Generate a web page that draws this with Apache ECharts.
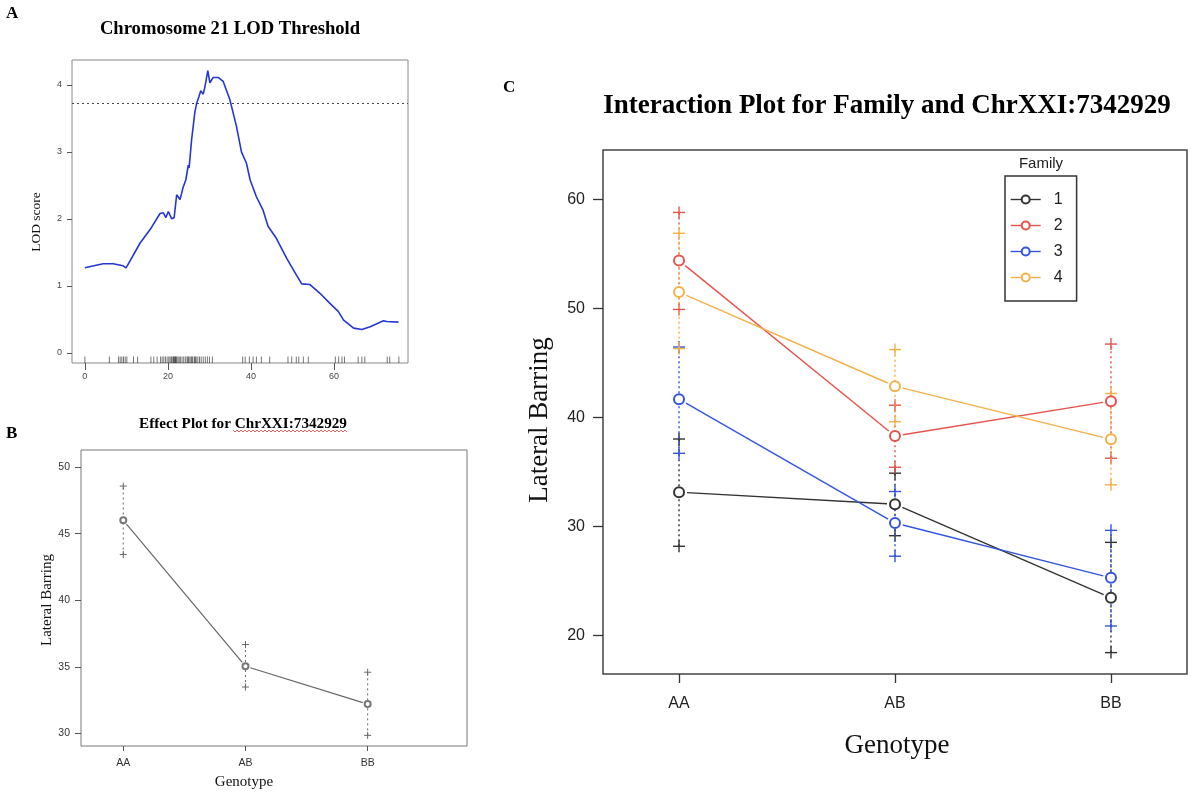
<!DOCTYPE html>
<html><head><meta charset="utf-8">
<script src="https://cdn.jsdelivr.net/npm/echarts@6/dist/echarts.min.js"></script>
<style>html,body{margin:0;padding:0;background:#fff}#c{width:1191px;height:803px}</style>
</head><body><div id="c"></div><script>
// ---------- Panel A data ----------
const lodPos = [0, 4.4, 6.8, 9.2, 9.9, 10.3, 13.3, 15.7, 18.1, 18.9, 19.5, 20.1, 20.9, 21.5, 22.1, 22.9, 23.3, 23.6, 24.3, 24.9, 25.1, 25.7, 26.1, 26.5, 26.9, 27.5, 27.9, 28.5, 28.9, 29.6, 30.1, 30.9, 32.1, 33.3, 34.9, 36.5, 37.7, 38.9, 39.8, 41.3, 42.9, 44.1, 46.1, 48.6, 50.2, 52.2, 54.2, 56.6, 59.0, 61.0, 62.3, 64.7, 66.7, 68.7, 71.9, 72.7, 75.5];
const lodScore = [1.27, 1.33, 1.33, 1.30, 1.27, 1.31, 1.64, 1.84, 2.08, 2.09, 2.02, 2.11, 2.00, 2.02, 2.36, 2.29, 2.38, 2.46, 2.58, 2.80, 2.76, 3.18, 3.39, 3.60, 3.72, 3.83, 3.91, 3.86, 3.97, 4.21, 4.03, 4.11, 4.11, 4.05, 3.78, 3.38, 3.00, 2.83, 2.58, 2.33, 2.13, 1.89, 1.71, 1.41, 1.24, 1.03, 1.02, 0.89, 0.74, 0.62, 0.49, 0.37, 0.35, 0.39, 0.48, 0.47, 0.46];
const markerPos = [0, 5.9, 8.1, 8.5, 8.9, 9.3, 9.7, 10.1, 11.7, 12.7, 15.9, 16.6, 17.4, 18.2, 18.6, 19.0, 19.4, 19.8, 20.2, 20.5, 20.8, 21.0, 21.3, 21.4, 21.6, 21.8, 21.9, 22.1, 22.4, 22.7, 23.0, 23.4, 23.8, 24.2, 24.6, 24.8, 25.0, 25.3, 25.6, 25.8, 26.0, 26.4, 26.6, 26.8, 27.2, 27.6, 28.0, 28.5, 29.0, 29.5, 30.0, 30.7, 38.0, 38.6, 39.6, 40.5, 41.3, 42.5, 44.5, 48.9, 49.8, 50.9, 51.5, 52.6, 53.8, 60.3, 61.1, 61.9, 62.5, 65.8, 66.7, 67.4, 72.8, 73.4, 75.6];
const lodThreshold = 3.72;
const lodTicks = [0, 1, 2, 3, 4];
const posTicks = [0, 20, 40, 60];

// ---------- Panel B data ----------
const genotypes = ['AA', 'AB', 'BB'];
const genoPos = [1, 2, 3];
const effMean = [46.0, 35.04, 32.2];
const effLower = [43.43, 33.48, 29.85];
const effUpper = [48.57, 36.67, 34.59];
const effTicks = [30, 35, 40, 45, 50];

// ---------- Panel C data ----------
const families = ['1', '2', '3', '4'];
const famColors = ['#333333', '#E5534B', '#3355DD', '#F5B048'];
const fam1Mean = [33.15, 32.05, 23.47];
const fam1Lower = [28.19, 29.16, 18.45];
const fam1Upper = [38.02, 34.89, 28.55];
const fam2Mean = [54.37, 38.29, 41.49];
const fam2Lower = [49.89, 35.43, 36.26];
const fam2Upper = [58.78, 41.12, 46.72];
const fam3Mean = [41.67, 30.32, 25.30];
const fam3Lower = [36.71, 27.28, 20.89];
const fam3Upper = [46.45, 33.21, 29.65];
const fam4Mean = [51.48, 42.86, 37.99];
const fam4Lower = [46.30, 39.60, 33.82];
const fam4Upper = [56.87, 46.21, 42.19];
const intTicks = [20, 30, 40, 50, 60];

const famMeans = [fam1Mean, fam2Mean, fam3Mean, fam4Mean];
const famLowers = [fam1Lower, fam2Lower, fam3Lower, fam4Lower];
const famUppers = [fam1Upper, fam2Upper, fam3Upper, fam4Upper];

const serif = "'Liberation Serif', 'Times New Roman', serif";
const sans = "'Liberation Sans', Arial, sans-serif";

function errRender(cross, color, lw) {
  return function (params, api) {
    const x = api.value(0), lo = api.value(1), hi = api.value(2);
    const pl = api.coord([x, lo]), ph = api.coord([x, hi]);
    const s = cross / 2;
    const st = { stroke: color, lineWidth: lw };
    return { type: 'group', children: [
      { type: 'line', shape: { x1: pl[0], y1: pl[1], x2: ph[0], y2: ph[1] }, style: { stroke: color, lineWidth: lw, lineDash: [2, 3] } },
      { type: 'line', shape: { x1: pl[0] - s, y1: pl[1], x2: pl[0] + s, y2: pl[1] }, style: st },
      { type: 'line', shape: { x1: pl[0], y1: pl[1] - s, x2: pl[0], y2: pl[1] + s }, style: st },
      { type: 'line', shape: { x1: ph[0] - s, y1: ph[1], x2: ph[0] + s, y2: ph[1] }, style: st },
      { type: 'line', shape: { x1: ph[0], y1: ph[1] - s, x2: ph[0], y2: ph[1] + s }, style: st }
    ]};
  };
}

// connecting segments with a gap at each point (R type = "b")
function segRender(gap, color, lw) {
  return function (params, api) {
    const p1 = api.coord([api.value(0), api.value(1)]);
    const p2 = api.coord([api.value(2), api.value(3)]);
    const dx = p2[0] - p1[0], dy = p2[1] - p1[1];
    const len = Math.sqrt(dx * dx + dy * dy) || 1;
    const ux = dx / len, uy = dy / len;
    return { type: 'line', shape: { x1: p1[0] + ux * gap, y1: p1[1] + uy * gap, x2: p2[0] - ux * gap, y2: p2[1] - uy * gap },
      style: { stroke: color, lineWidth: lw } };
  };
}
function segData(means) {
  const out = [];
  for (let i = 0; i < genoPos.length - 1; i++) out.push([genoPos[i], means[i], genoPos[i + 1], means[i + 1]]);
  return out;
}

function mkAxis(gi, min, max, ticks, o) {
  return {
    gridIndex: gi, type: 'value', min: min, max: max,
    axisLine: { show: false, onZero: false }, splitLine: { show: false },
    axisTick: { show: true, inside: false, length: o.tickLen, customValues: ticks, lineStyle: { color: o.tickColor, width: o.tickWidth || 1 } },
    axisLabel: { customValues: ticks, fontSize: o.fontSize, color: o.labelColor, margin: o.margin, fontFamily: sans,
      formatter: o.formatter || (v => String(v)) }
  };
}

const genoFmt = v => genotypes[genoPos.indexOf(Math.round(v))] || '';

const series = [];
// A: LOD curve
series.push({
  type: 'line', xAxisIndex: 0, yAxisIndex: 0, name: 'lod',
  data: lodPos.map((p, i) => [p, lodScore[i]]),
  showSymbol: false, symbol: 'none', lineStyle: { color: '#2536D6', width: 1.6 }, z: 3,
  markLine: { silent: true, symbol: 'none', label: { show: false },
    lineStyle: { color: '#444', type: [2, 3], width: 1.2 }, data: [{ yAxis: lodThreshold }] }
});
// A: marker rug
series.push({
  type: 'custom', xAxisIndex: 0, yAxisIndex: 0, name: 'rug',
  data: markerPos.map(p => [p, 0]),
  renderItem: function (params, api) {
    const p = api.coord([api.value(0), 0]);
    const cs = params.coordSys; const yb = cs.y + cs.height;
    return { type: 'line', shape: { x1: p[0], y1: yb, x2: p[0], y2: yb - 6.5 }, style: { stroke: '#000', lineWidth: 0.9, opacity: 0.6 } };
  }, z: 2
});
// B: effect errors, segments, points
series.push({
  type: 'custom', xAxisIndex: 1, yAxisIndex: 1, name: 'effErr',
  data: genoPos.map((g, i) => [g, effLower[i], effUpper[i]]),
  renderItem: errRender(7, '#666', 1), z: 2
});
series.push({
  type: 'custom', xAxisIndex: 1, yAxisIndex: 1, name: 'effSeg',
  data: segData(effMean), renderItem: segRender(5, '#666', 1.2), z: 3
});
series.push({
  type: 'line', xAxisIndex: 1, yAxisIndex: 1, name: 'eff',
  data: genoPos.map((g, i) => [g, effMean[i]]),
  symbol: 'emptyCircle', symbolSize: 6, lineStyle: { opacity: 0 },
  itemStyle: { color: '#777', borderWidth: 1 }, z: 3
});
// C: families
families.forEach((f, k) => {
  series.push({
    type: 'custom', xAxisIndex: 2, yAxisIndex: 2, name: 'err' + f,
    data: genoPos.map((g, i) => [g, famLowers[k][i], famUppers[k][i]]),
    renderItem: errRender(12, famColors[k], 1.4), z: 2
  });
});
families.forEach((f, k) => {
  series.push({
    type: 'custom', xAxisIndex: 2, yAxisIndex: 2, name: 'seg' + f,
    data: segData(famMeans[k]), renderItem: segRender(8, famColors[k], 1.4), z: 4
  });
  series.push({
    type: 'line', xAxisIndex: 2, yAxisIndex: 2, name: f,
    data: genoPos.map((g, i) => [g, famMeans[k][i]]),
    symbol: 'emptyCircle', symbolSize: 10,
    lineStyle: { color: famColors[k], width: 1.4, opacity: 0 },
    itemStyle: { color: famColors[k], borderWidth: 1.4 }, z: 4
  });
});

// decorative red squiggle (spell-check underline) under B title
const sq = [];
for (let i = 0; i <= 57; i++) sq.push([233 + i * 2, 431 + (i % 2 ? 1 : -1)]);

const option = {
  animation: false,
  backgroundColor: '#fff',
  textStyle: { fontFamily: sans },
  grid: [
    { left: 72, top: 60, width: 336, height: 303, show: true, borderColor: '#888', borderWidth: 1, backgroundColor: 'transparent' },
    { left: 81, top: 450, width: 386, height: 296, show: true, borderColor: '#777', borderWidth: 1, backgroundColor: 'transparent' },
    { left: 603, top: 150, width: 584, height: 524, show: true, borderColor: '#444', borderWidth: 1.5, backgroundColor: 'transparent' }
  ],
  xAxis: [
    mkAxis(0, -3.1, 77.8, posTicks, { tickLen: 7, tickColor: '#555', fontSize: 9, labelColor: '#444', margin: 9 }),
    mkAxis(1, 0.654, 3.813, genoPos, { tickLen: 5, tickColor: '#555', fontSize: 10.5, labelColor: '#333', margin: 12, formatter: genoFmt }),
    mkAxis(2, 0.648, 3.352, genoPos, { tickLen: 9, tickColor: '#333', tickWidth: 1.3, fontSize: 16, labelColor: '#222', margin: 22, formatter: genoFmt })
  ],
  yAxis: [
    mkAxis(0, -0.15, 4.37, lodTicks, { tickLen: 5, tickColor: '#555', fontSize: 9, labelColor: '#444', margin: 10 }),
    mkAxis(1, 29.05, 51.28, effTicks, { tickLen: 6, tickColor: '#555', fontSize: 10.5, labelColor: '#333', margin: 11 }),
    mkAxis(2, 16.49, 64.5, intTicks, { tickLen: 10, tickColor: '#333', tickWidth: 1.3, fontSize: 16, labelColor: '#222', margin: 18 })
  ],
  legend: {
    data: families.map((f, k) => ({ name: f, lineStyle: { color: famColors[k], width: 1.4, opacity: 1 } })),
    orient: 'vertical', left: 1005, top: 176,
    padding: [15.5, 14, 15.5, 5], itemWidth: 30, itemHeight: 10, itemGap: 10,
    borderColor: '#333', borderWidth: 1.5, selectedMode: false,
    textStyle: { fontSize: 16, fontFamily: sans, color: '#222', lineHeight: 10, padding: [0, 0, 0, 8] }
  },
  graphic: [
    { type: 'text', left: 6, top: 5, style: { text: 'A', font: 'bold 17px ' + serif, fill: '#000' } },
    { type: 'text', x: 230, y: 29, style: { text: 'Chromosome 21 LOD Threshold', font: 'bold 18.6px ' + serif, fill: '#000', textAlign: 'center', textVerticalAlign: 'middle' } },
    { type: 'text', x: 36, y: 222, rotation: Math.PI / 2, style: { text: 'LOD score', font: '13.5px ' + serif, fill: '#111', textAlign: 'center', textVerticalAlign: 'middle' } },
    { type: 'text', left: 6, top: 425, style: { text: 'B', font: 'bold 17px ' + serif, fill: '#000' } },
    { type: 'text', x: 243, y: 424, style: { text: 'Effect Plot for ChrXXI:7342929', font: 'bold 15.2px ' + serif, fill: '#000', textAlign: 'center', textVerticalAlign: 'middle' } },
    { type: 'polyline', shape: { points: sq }, style: { stroke: '#E23A3A', lineWidth: 0.8, fill: null } },
    { type: 'text', x: 47, y: 600, rotation: Math.PI / 2, style: { text: 'Lateral Barring', font: '15px ' + serif, fill: '#111', textAlign: 'center', textVerticalAlign: 'middle' } },
    { type: 'text', x: 244, y: 782, style: { text: 'Genotype', font: '15px ' + serif, fill: '#111', textAlign: 'center', textVerticalAlign: 'middle' } },
    { type: 'text', left: 503, top: 79, style: { text: 'C', font: 'bold 17px ' + serif, fill: '#000' } },
    { type: 'text', x: 887, y: 106, style: { text: 'Interaction Plot for Family and ChrXXI:7342929', font: 'bold 27px ' + serif, fill: '#000', textAlign: 'center', textVerticalAlign: 'middle' } },
    { type: 'text', x: 540, y: 420, rotation: Math.PI / 2, style: { text: 'Lateral Barring', font: '27px ' + serif, fill: '#111', textAlign: 'center', textVerticalAlign: 'middle' } },
    { type: 'text', x: 897, y: 746, style: { text: 'Genotype', font: '27px ' + serif, fill: '#111', textAlign: 'center', textVerticalAlign: 'middle' } },
    { type: 'text', x: 1041, y: 164, style: { text: 'Family', font: '15px ' + sans, fill: '#222', textAlign: 'center', textVerticalAlign: 'middle' } }
  ],
  series: series
};
const chart = echarts.init(document.getElementById('c'), null, { renderer: 'canvas' });
chart.setOption(option);
</script></body></html>
